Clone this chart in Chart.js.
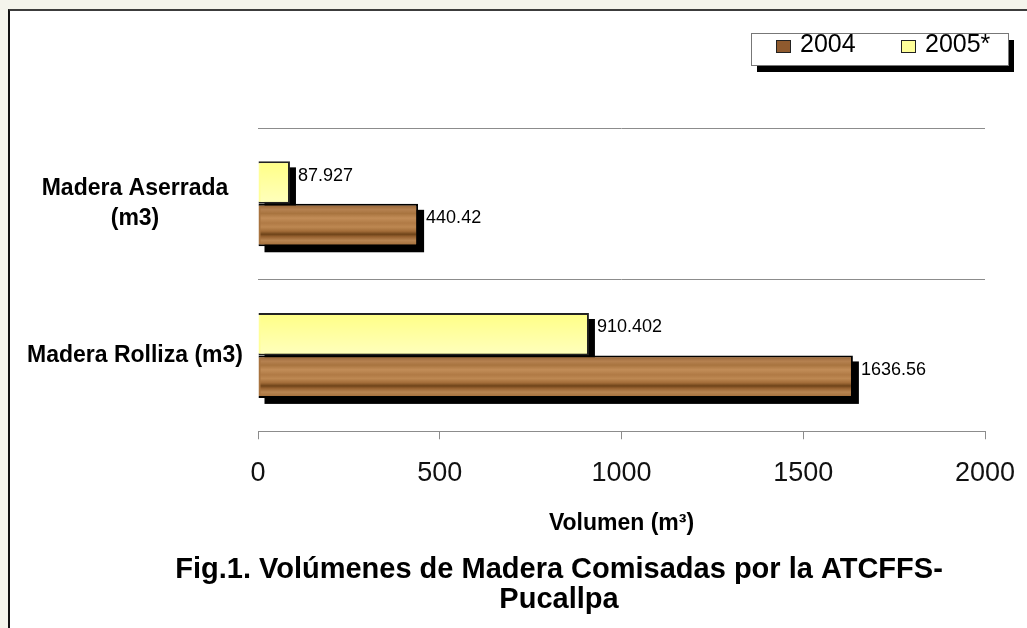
<!DOCTYPE html>
<html>
<head>
<meta charset="utf-8">
<script src="https://cdn.jsdelivr.net/npm/chart.js@4/dist/chart.umd.min.js"></script>
<style>
  html, body { margin: 0; padding: 0; }
  body { width: 1027px; height: 628px; background: #f4f4ec; position: relative; overflow: hidden; }
  #panel { position: absolute; left: 8px; top: 9px; right: 0; bottom: 0; background: #fff;
           border-top: 2px solid #3c3c3c; border-left: 2px solid #111; }
  #panel canvas { display: block; }
</style>
</head>
<body>
<div id="panel"><canvas id="chart" width="1017" height="617"></canvas></div>
<script>
/* ================= DATA ================= */

const categories = [['Madera Aserrada', '(m3)'], 'Madera Rolliza (m3)'];
const seriesNames = ['2004', '2005*'];
const values2004 = [440.42, 1636.56];
const values2005 = [87.927, 910.402];
const xTicks = [0, 500, 1000, 1500, 2000];

const FONT = '"Liberation Sans", Arial, sans-serif';

/* ================= PLUGINS ================= */

// let the category labels run left of the (narrowed) y axis box without clipping
const freeLabels = {
  id: 'freeLabels',
  afterLayout(chart) { chart.scales.y.left = 0; }
};

// black drop shadows behind every bar, drawn before the bars themselves
const barShadows = {
  id: 'barShadows',
  beforeDatasetsDraw(chart) {
    const ctx = chart.ctx;
    ctx.save();
    ctx.fillStyle = '#000';
    chart.data.datasets.forEach((ds, i) => {
      chart.getDatasetMeta(i).data.forEach(bar => {
        const left = Math.min(bar.base, bar.x);
        const top = bar.y - bar.height / 2;
        ctx.fillRect(left + 6, top + 6, Math.abs(bar.x - bar.base), bar.height);
      });
    });
    ctx.restore();
  }
};

// wood grain / pale yellow gradient fills over the bars
const barFills = {
  id: 'barFills',
  afterDatasetDraw(chart, args) {
    const ds = chart.data.datasets[args.index];
    const ctx = chart.ctx;
    const bw = ds.borderWidth;
    ctx.save();
    args.meta.data.forEach(bar => {
      const left = Math.min(bar.base, bar.x) + bw;
      const right = Math.max(bar.base, bar.x) - bw;
      const top = bar.y - bar.height / 2 + bw;
      const bottom = bar.y + bar.height / 2 - bw;
      const g = ctx.createLinearGradient(0, top, 0, bottom);
      ds.stops.forEach(s => g.addColorStop(s[0], s[1]));
      ctx.fillStyle = g;
      ctx.fillRect(left, top, right - left, bottom - top);
    });
    ctx.restore();
  }
};

// value labels next to the bar ends
const valueLabels = {
  id: 'valueLabels',
  afterDatasetsDraw(chart) {
    const ctx = chart.ctx;
    ctx.save();
    ctx.font = '18px ' + FONT;
    ctx.fillStyle = '#000';
    ctx.textBaseline = 'middle';
    ctx.textAlign = 'left';
    chart.data.datasets.forEach((ds, i) => {
      chart.getDatasetMeta(i).data.forEach((bar, j) => {
        ctx.fillText(String(ds.data[j]), bar.x + 8, bar.y - 7);
      });
    });
    ctx.restore();
  }
};

// framed legend with shadow, top right
const boxLegend = {
  id: 'boxLegend',
  afterDraw(chart) {
    const ctx = chart.ctx;
    const x = 741, y = 22, w = 257, h = 32;
    ctx.save();
    ctx.fillStyle = '#000';
    ctx.fillRect(x + 6, y + 7, w, h);
    ctx.fillStyle = '#fff';
    ctx.fillRect(x, y, w, h);
    ctx.strokeStyle = '#777';
    ctx.lineWidth = 1;
    ctx.strokeRect(x + 0.5, y + 0.5, w, h);
    ctx.font = '25px ' + FONT;
    ctx.textBaseline = 'middle';
    let cx = x + 25;
    [1, 0].forEach(i => {
      const ds = chart.data.datasets[i];
      ctx.fillStyle = ds.swatch;
      ctx.fillRect(cx, y + 7, 15, 13);
      ctx.strokeStyle = '#222';
      ctx.strokeRect(cx + 0.5, y + 7.5, 14, 12);
      ctx.fillStyle = '#000';
      ctx.fillText(ds.label, cx + 24, y + 12);
      cx += 125;
    });
    ctx.restore();
  }
};

/* ================= CHART ================= */

Chart.defaults.color = '#000';
Chart.defaults.font.family = FONT;

new Chart(document.getElementById('chart').getContext('2d'), {
  type: 'bar',
  data: {
    labels: categories,
    datasets: [
      {
        label: seriesNames[1],
        data: values2005,
        backgroundColor: '#ffff99',
        swatch: '#ffff99',
        borderColor: '#222',
        borderWidth: 2,
        stops: [[0, '#ffff88'], [1, '#ffffbb']]
      },
      {
        label: seriesNames[0],
        data: values2004,
        backgroundColor: '#a8733f',
        swatch: '#8f5a2e',
        borderColor: '#000',
        borderWidth: 2,
        stops: [
          [0, '#9c6a3c'], [0.1, '#b58150'], [0.2, '#a8743f'], [0.32, '#c28d58'],
          [0.45, '#b07a45'], [0.55, '#bd8852'], [0.66, '#a26c38'], [0.74, '#6e4319'],
          [0.8, '#95602f'], [0.9, '#b88552'], [1, '#a7733f']
        ]
      }
    ]
  },
  options: {
    indexAxis: 'y',
    responsive: false,
    animation: false,
    categoryPercentage: 0.56,
    barPercentage: 1.0,
    layout: { padding: { left: 123, right: 42, top: 117, bottom: 0 } },
    plugins: {
      legend: { display: false },
      tooltip: { enabled: false },
      title: {
        display: true,
        position: 'bottom',
        text: ['Fig.1. Volúmenes de Madera Comisadas por la ATCFFS-', 'Pucallpa'],
        font: { size: 29, weight: 'bold', lineHeight: 1.03 },
        padding: { top: 8, bottom: 13 }
      }
    },
    scales: {
      x: {
        min: xTicks[0],
        max: xTicks[xTicks.length - 1],
        afterBuildTicks: scale => { scale.ticks = xTicks.map(v => ({ value: v })); },
        afterFit: scale => { scale.paddingLeft = 0; scale.paddingRight = 0; },
        grid: { drawOnChartArea: false, drawTicks: true, tickLength: 8, color: '#8c8c8c' },
        border: { display: true, color: '#8c8c8c', width: 1 },
        ticks: { font: { size: 27 }, padding: 18, color: '#111', callback: v => String(v) },
        title: {
          display: true,
          text: 'Volumen (m³)',
          font: { size: 23, weight: 'bold', lineHeight: 1.2 },
          padding: { top: 2, bottom: 10 }
        }
      },
      y: {
        afterFit: scale => { scale.width = 125; },
        grid: { drawTicks: false, color: '#8c8c8c', lineWidth: 1 },
        border: { display: false },
        ticks: { font: { size: 23, weight: 'bold', lineHeight: 1.3 }, padding: 15, crossAlign: 'center' }
      }
    }
  },
  plugins: [freeLabels, barShadows, barFills, valueLabels, boxLegend]
});
</script>
</body>
</html>
